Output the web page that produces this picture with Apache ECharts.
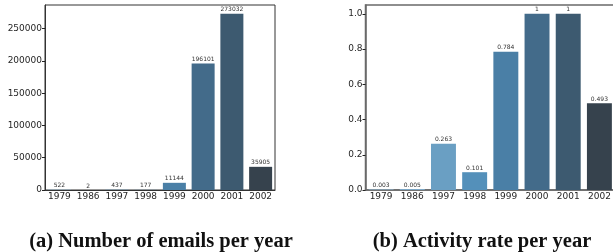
<!DOCTYPE html>
<html>
<head>
<meta charset="utf-8">
<script src="https://cdn.jsdelivr.net/npm/echarts@6/dist/echarts.min.js"></script>
<style>
  html, body { margin: 0; padding: 0; overflow: hidden; background: #fff; }
  #chart { width: 620px; height: 252px; }
</style>
</head>
<body>
<!--容器-->
<div id="chart"></div>
<script>
// years on both x axes
var years = ["1979", "1986", "1997", "1998", "1999", "2000", "2001", "2002"];
// (a) number of emails per year
var emailCounts = [522, 2, 437, 177, 11144, 196101, 273032, 35905];
// (b) activity rate per year
var activityRate = [0.003, 0.005, 0.263, 0.101, 0.784, 1, 1, 0.493];
// bar colours, one per year (seaborn Blues_d like)
var barColors = ["#93bcd9", "#7fb0d3", "#6a9fc3", "#5490ba", "#4a7fa6", "#436b8a", "#3d5a70", "#36424d"];

var myChart = echarts.init(document.getElementById("chart"));

// common axis bits
var tickFont = { fontFamily: "DejaVu Sans", fontSize: 9, color: "#262626" };

function xAxisOf(gridIndex, lineColor, lineWidth) {
  return {
    type: "category",
    gridIndex: gridIndex,
    data: years,
    axisLine: { lineStyle: { color: lineColor, width: lineWidth } },
    axisTick: { alignWithLabel: true, length: 3, lineStyle: { color: "#222" } },
    axisLabel: Object.assign({ margin: 2, interval: 0 }, tickFont)
  };
}

function yAxisOf(gridIndex, max, interval, lineColor, lineWidth, fmt) {
  return {
    type: "value",
    gridIndex: gridIndex,
    min: 0,
    max: max,
    interval: interval,
    splitLine: { show: false },
    axisLine: { show: true, lineStyle: { color: lineColor, width: lineWidth } },
    axisTick: { show: true, length: 3, lineStyle: { color: "#222" } },
    axisLabel: Object.assign({ margin: 3, showMaxLabel: false, formatter: fmt }, tickFont)
  };
}

function barsOf(values, idx) {
  return {
    type: "bar",
    xAxisIndex: idx,
    yAxisIndex: idx,
    barWidth: "80%",
    data: values.map(function (v, i) {
      return { value: v, itemStyle: { color: barColors[i] } };
    }),
    label: {
      show: true,
      position: "top",
      distance: 1,
      fontFamily: "DejaVu Sans",
      fontSize: 6,
      color: "#333",
      formatter: function (p) { return String(p.value); }
    }
  };
}

var option = {
  animation: false,
  grid: [
    { left: 45, top: 5, width: 230, height: 185, show: true, borderColor: "#333", borderWidth: 1, backgroundColor: "transparent" },
    { left: 365.5, top: 5, width: 249.5, height: 185, show: true, borderColor: "#6a6a6a", borderWidth: 1.5, backgroundColor: "transparent" }
  ],
  xAxis: [xAxisOf(0, "#333", 1), xAxisOf(1, "#6a6a6a", 1.5)],
  yAxis: [
    yAxisOf(0, Math.max.apply(null, emailCounts) * 1.05, 50000, "#333", 1, function (v) { return String(Math.round(v)); }),
    yAxisOf(1, 1.05, 0.2, "#6a6a6a", 1.5, function (v) { return v.toFixed(1); })
  ],
  series: [barsOf(emailCounts, 0), barsOf(activityRate, 1)],
  graphic: [
    {
      type: "text", x: 161, y: 252,
      style: { text: "(a) Number of emails per year", font: 'bold 20.5px "Liberation Serif"', fill: "#111", textAlign: "center", textVerticalAlign: "bottom" }
    },
    {
      type: "text", x: 482, y: 252,
      style: { text: "(b) Activity rate per year", font: 'bold 20.5px "Liberation Serif"', fill: "#111", textAlign: "center", textVerticalAlign: "bottom" }
    }
  ]
};

myChart.setOption(option);
</script>
</body>
</html>
